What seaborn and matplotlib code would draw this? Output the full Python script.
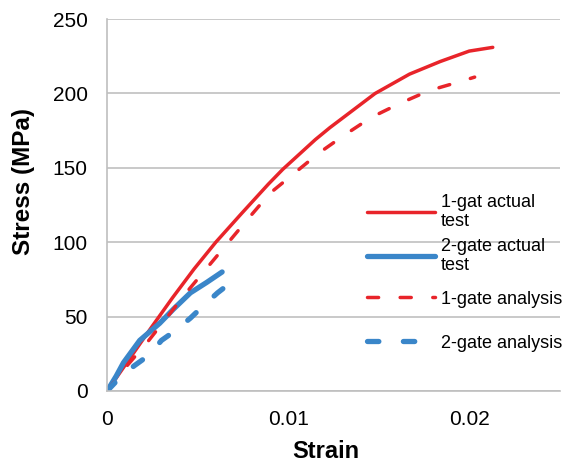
import numpy as np
import pandas as pd
import matplotlib
matplotlib.use("Agg")
import matplotlib.pyplot as plt
import seaborn as sns

# 데이터
strain_1gate_test = [0, 0.0012, 0.0024, 0.0036, 0.0048, 0.006, 0.0074, 0.0089, 0.0097, 0.0115,
                     0.0123, 0.0148, 0.0167, 0.0184, 0.0200, 0.0213]
stress_1gate_test = [0, 21, 42, 62.5, 82, 100, 119, 139, 149, 169,
                     177, 200, 213, 221.5, 228.5, 231]

strain_2gate_test = [0, 0.0005, 0.0009, 0.0018, 0.0029, 0.00366, 0.0046, 0.0055, 0.00635]
stress_2gate_test = [0, 10, 19, 34, 45.5, 55, 66, 73, 80]

strain_1gate_ana = [0, 0.0011, 0.0023, 0.0034, 0.0045, 0.0056, 0.0067, 0.0078, 0.009,
                    0.0103, 0.0117, 0.0131, 0.0146, 0.0162, 0.0178, 0.0195, 0.0203]
stress_1gate_ana = [0, 17, 34, 51, 68, 84, 100, 116, 133,
                    146, 160, 172, 184, 193.5, 202, 208, 211]

strain_2gate_ana = [0, 0.0007, 0.0015, 0.0023, 0.003, 0.0037, 0.0046, 0.0052, 0.0061, 0.0068]
stress_2gate_ana = [0, 9, 17, 24, 34, 40, 49, 56, 66, 72.6]

labels = ['1-gat actual\ntest', '2-gate actual\ntest', '1-gate analysis', '2-gate analysis']

red = '#e8242a'
blue = '#3a86c9'

sns.set_style('white')
plt.rcParams['font.family'] = ['Liberation Sans', 'DejaVu Sans']
plt.rcParams['text.color'] = 'black'
plt.rcParams['axes.labelcolor'] = 'black'
plt.rcParams['xtick.labelcolor'] = 'black'
plt.rcParams['ytick.labelcolor'] = 'black'

fig, ax = plt.subplots(figsize=(5.7, 4.66), dpi=100)
fig.subplots_adjust(left=0.188, right=0.982, top=0.959, bottom=0.161)

sns.lineplot(x=strain_1gate_test, y=stress_1gate_test, ax=ax, color=red, lw=2.5,
             sort=False, estimator=None, solid_capstyle='round')
sns.lineplot(x=strain_2gate_test, y=stress_2gate_test, ax=ax, color=blue, lw=3.8,
             sort=False, estimator=None, solid_capstyle='round')
sns.lineplot(x=strain_1gate_ana, y=stress_1gate_ana, ax=ax, color=red, lw=2.5,
             sort=False, estimator=None)
sns.lineplot(x=strain_2gate_ana, y=stress_2gate_ana, ax=ax, color=blue, lw=3.8,
             sort=False, estimator=None)
lines = ax.lines[-4:]
lines[2].set_dashes((3.2, 6.2))
lines[3].set_dashes((2.15, 4.65))
for ln in lines[2:]:
    ln.set_dash_capstyle('round')

ax.set_xlim(0, 0.025)
ax.set_ylim(0, 250)
ax.set_xticks([0, 0.01, 0.02])
ax.set_xticklabels(['0', '0.01', '0.02'])
ax.set_yticks(range(0, 251, 50))
ax.tick_params(axis='both', labelsize=15, length=5, color='#bfbfbf', direction='out',
               labelcolor='black')
ax.tick_params(axis='y', pad=9)
ax.tick_params(axis='x', pad=9)
ax.yaxis.grid(True, color='#c0c0c0', lw=1.2)
ax.set_axisbelow(True)
for s in ['top', 'right']:
    ax.spines[s].set_visible(False)
for s in ['left', 'bottom']:
    ax.spines[s].set_color('#bfbfbf')
    ax.spines[s].set_linewidth(1.2)

ax.set_xlabel('Strain', fontsize=17, fontweight='bold', color='black')
ax.set_ylabel('Stress (MPa)', fontsize=17.5, fontweight='bold', color='black')
ax.xaxis.set_label_coords(0.483, -0.132)
ax.yaxis.set_label_coords(-0.16, 0.562)

# 범례는 항목마다 따로 배치 (간격을 원본처럼 일정하게)
legend_y = [0.481, 0.363, 0.247, 0.129]
for i, (ln, lab, yy) in enumerate(zip(lines, labels, legend_y)):
    leg = ax.legend([ln], [lab], loc='center left', bbox_to_anchor=(0.574, yy),
                    frameon=False, fontsize=13, handlelength=3.77,
                    handletextpad=0.33, borderpad=0, borderaxespad=0,
                    labelcolor='black')
    if i < 3:
        ax.add_artist(leg)

plt.savefig('out.png', dpi=100)
